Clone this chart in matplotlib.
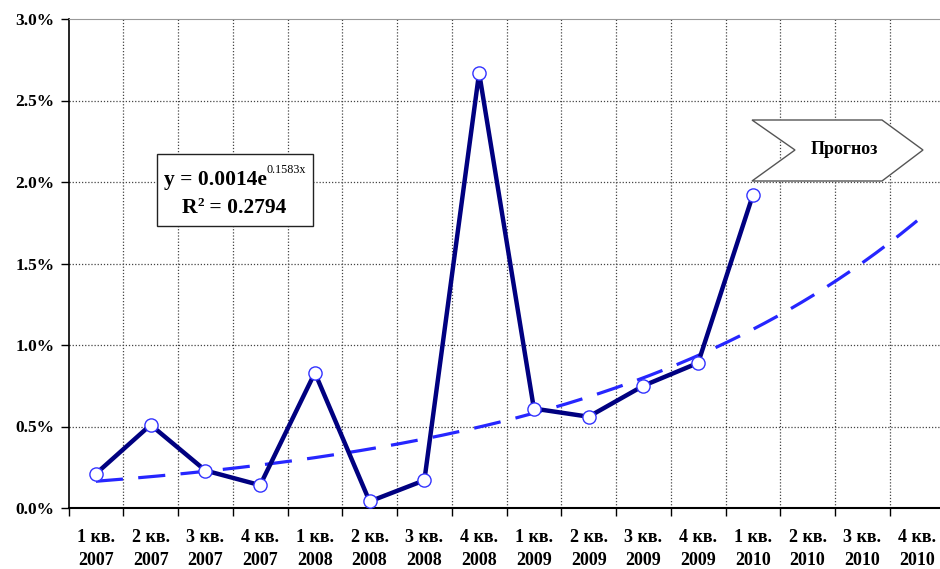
import numpy as np
import matplotlib
matplotlib.use("Agg")
import matplotlib.pyplot as plt
from matplotlib.patches import Polygon, Rectangle

plt.rcParams['font.family'] = ['Liberation Serif', 'DejaVu Serif']
plt.rcParams['font.weight'] = 'bold'

# Quarterly labels (full horizon including forecast quarters)
quarters = ['1 кв.', '2 кв.', '3 кв.', '4 кв.'] * 4
years = ['2007'] * 4 + ['2008'] * 4 + ['2009'] * 4 + ['2010'] * 4
tick_labels = [f"{q}\n{y}" for q, y in zip(quarters, years)]

# Observed values, % (first 13 quarters)
values = [0.21, 0.51, 0.23, 0.14, 0.83, 0.04, 0.17, 2.67,
          0.61, 0.56, 0.75, 0.89, 1.92]

# Exponential trend y = a * exp(b * x)
trend_a = 0.0014
trend_b = 0.1583
r_squared = 0.2794

W, H = 940, 569
fig = plt.figure(figsize=(W / 100, H / 100), dpi=100)
ax = fig.add_axes([68.5 / W, 61 / H, (944.5 - 68.5) / W, (508 - 19) / H])

n = len(tick_labels)
x_all = np.arange(1, n + 1)
x_obs = np.arange(1, len(values) + 1)

x_tr = np.linspace(1, n, 200)
y_tr = trend_a * np.exp(trend_b * x_tr) * 100
ax.plot(x_tr, y_tr, color='#2626ff', lw=2.3, dashes=(8.5, 4.8), zorder=3)

ax.plot(x_obs, values, color='#000080', lw=3.2, zorder=4,
        marker='o', markersize=9.5, markerfacecolor='white',
        markeredgecolor='#3333ff', markeredgewidth=1.0)

ax.set_xlim(0.5, n + 0.5)
ax.set_ylim(0, 3.0)
yt = np.arange(0, 3.01, 0.5)
ax.set_yticks(yt)
ax.set_yticklabels([f"{v:.1f}%" for v in yt])

ax.set_xticks(x_all)
ax.set_xticklabels(tick_labels, linespacing=1.45)
ax.set_xticks(np.arange(0.5, n + 1, 1), minor=True)
ax.tick_params(axis='x', which='major', length=0, pad=15, labelsize=13)
ax.tick_params(axis='x', which='minor', length=6, width=1, direction='out', color='black')
ax.tick_params(axis='y', length=6, width=1, direction='out', pad=4, labelsize=12.5)
for lab in ax.get_xticklabels() + ax.get_yticklabels():
    lab.set_fontweight('bold')

ax.grid(False)
for xv in np.arange(1.5, n + 0.5, 1):
    ax.axvline(xv, color='#444444', lw=0.9, ls=(0, (1, 1.5)), zorder=1)
for yv in np.arange(0.5, 3.0, 0.5):
    ax.axhline(yv, color='#444444', lw=0.9, ls=(0, (1, 1.5)), zorder=1)

ax.spines['top'].set_color('#999999')
ax.spines['right'].set_visible(False)
ax.spines['left'].set_linewidth(1.2)
ax.spines['bottom'].set_linewidth(1.5)

# Equation box
fig.patches.append(Rectangle((157 / W, 1 - 226 / H), 156 / W, 72 / H,
                             transform=fig.transFigure, facecolor='white',
                             edgecolor='#222222', lw=1.0, zorder=5))

renderer = fig.canvas.get_renderer()


def text_run(pieces, cx, baseline):
    """Draw a horizontally centred run of (text, size, weight, raise_px) pieces."""
    items = []
    for s, size, weight, rise in pieces:
        t = fig.text(0, 0, s, fontsize=size, fontweight=weight,
                     ha='left', va='baseline', zorder=6)
        items.append((t, rise, t.get_window_extent(renderer).width))
    total = sum(w for _, _, w in items)
    x = cx - total / 2
    for t, rise, w in items:
        t.set_position((x / W, 1 - (baseline - rise) / H))
        x += w


text_run([('y = %.4fe' % trend_a, 15.5, 'bold', 0),
          ('%.4fx' % trend_b, 8.7, 'normal', 12)], 235, 185)
text_run([('R', 15.5, 'bold', 0),
          ('2', 9.5, 'bold', 7),
          (' = %.4f' % r_squared, 15.5, 'bold', 0)], 234, 213)

# Forecast arrow
pts = [(752, 120), (882, 120), (923, 150), (882, 181), (752, 181), (795, 150)]
fig.patches.append(Polygon([(px / W, 1 - py / H) for px, py in pts],
                           closed=True, transform=fig.transFigure,
                           facecolor='white', edgecolor='#555555', lw=1.0, zorder=5))
fig.text(844 / W, 1 - 150 / H, 'Прогноз', ha='center', va='center',
         fontsize=13, fontweight='bold', zorder=6)

fig.savefig('out.png', dpi=100)
